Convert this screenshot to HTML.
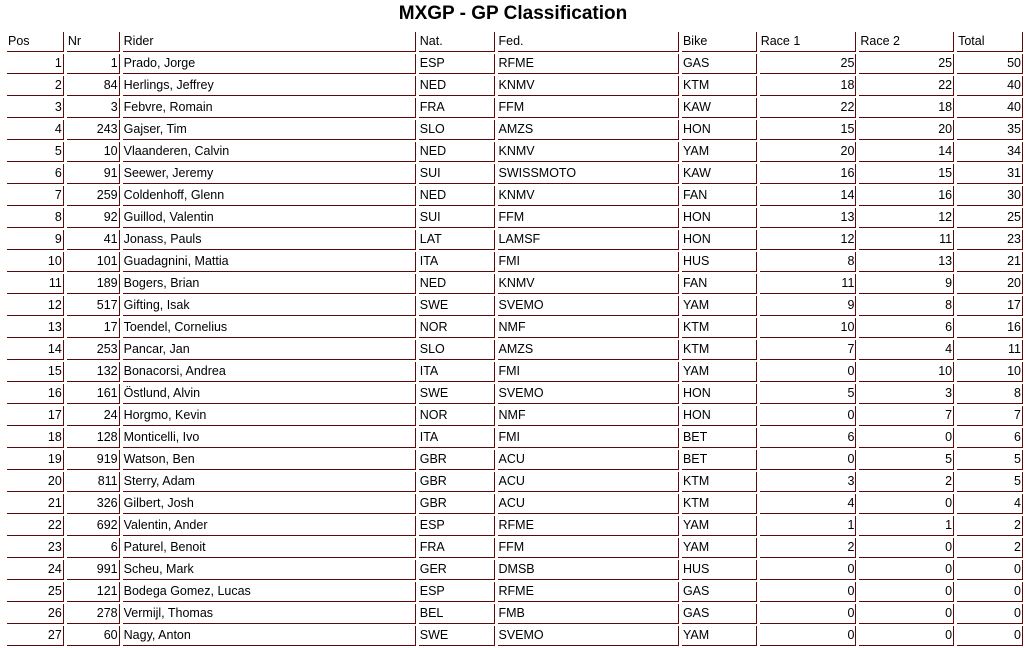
<!DOCTYPE html>
<html><head><meta charset="utf-8"><style>
body{margin:0;background:#fff;font-family:"Liberation Sans",Arial,sans-serif;width:1026px;height:648px;overflow:hidden;position:relative}
h1{position:absolute;top:3px;left:0;width:1026px;margin:0;text-align:center;font-size:19px;font-weight:bold;line-height:22px}
table{position:absolute;left:4px;top:30px;border-collapse:separate;border-spacing:3px 2px;table-layout:fixed;font-size:12.5px}
td{border-right:1px solid #5a0a0a;border-bottom:1px solid #5a0a0a;height:19px;padding:0 1px 0 1px;white-space:nowrap;overflow:hidden;line-height:19px;vertical-align:bottom}
td.r{text-align:right}
</style></head><body>
<h1>MXGP - GP Classification</h1>
<table>
<colgroup><col style="width:57px"><col style="width:53px"><col style="width:294px"><col style="width:76px"><col style="width:182px"><col style="width:75px"><col style="width:97px"><col style="width:95px"><col style="width:66px"></colgroup>
<tr class="h"><td>Pos</td><td>Nr</td><td>Rider</td><td>Nat.</td><td>Fed.</td><td>Bike</td><td>Race 1</td><td>Race 2</td><td>Total</td></tr>
<tr><td class="r">1</td><td class="r">1</td><td>Prado, Jorge</td><td>ESP</td><td>RFME</td><td>GAS</td><td class="r">25</td><td class="r">25</td><td class="r">50</td></tr>
<tr><td class="r">2</td><td class="r">84</td><td>Herlings, Jeffrey</td><td>NED</td><td>KNMV</td><td>KTM</td><td class="r">18</td><td class="r">22</td><td class="r">40</td></tr>
<tr><td class="r">3</td><td class="r">3</td><td>Febvre, Romain</td><td>FRA</td><td>FFM</td><td>KAW</td><td class="r">22</td><td class="r">18</td><td class="r">40</td></tr>
<tr><td class="r">4</td><td class="r">243</td><td>Gajser, Tim</td><td>SLO</td><td>AMZS</td><td>HON</td><td class="r">15</td><td class="r">20</td><td class="r">35</td></tr>
<tr><td class="r">5</td><td class="r">10</td><td>Vlaanderen, Calvin</td><td>NED</td><td>KNMV</td><td>YAM</td><td class="r">20</td><td class="r">14</td><td class="r">34</td></tr>
<tr><td class="r">6</td><td class="r">91</td><td>Seewer, Jeremy</td><td>SUI</td><td>SWISSMOTO</td><td>KAW</td><td class="r">16</td><td class="r">15</td><td class="r">31</td></tr>
<tr><td class="r">7</td><td class="r">259</td><td>Coldenhoff, Glenn</td><td>NED</td><td>KNMV</td><td>FAN</td><td class="r">14</td><td class="r">16</td><td class="r">30</td></tr>
<tr><td class="r">8</td><td class="r">92</td><td>Guillod, Valentin</td><td>SUI</td><td>FFM</td><td>HON</td><td class="r">13</td><td class="r">12</td><td class="r">25</td></tr>
<tr><td class="r">9</td><td class="r">41</td><td>Jonass, Pauls</td><td>LAT</td><td>LAMSF</td><td>HON</td><td class="r">12</td><td class="r">11</td><td class="r">23</td></tr>
<tr><td class="r">10</td><td class="r">101</td><td>Guadagnini, Mattia</td><td>ITA</td><td>FMI</td><td>HUS</td><td class="r">8</td><td class="r">13</td><td class="r">21</td></tr>
<tr><td class="r">11</td><td class="r">189</td><td>Bogers, Brian</td><td>NED</td><td>KNMV</td><td>FAN</td><td class="r">11</td><td class="r">9</td><td class="r">20</td></tr>
<tr><td class="r">12</td><td class="r">517</td><td>Gifting, Isak</td><td>SWE</td><td>SVEMO</td><td>YAM</td><td class="r">9</td><td class="r">8</td><td class="r">17</td></tr>
<tr><td class="r">13</td><td class="r">17</td><td>Toendel, Cornelius</td><td>NOR</td><td>NMF</td><td>KTM</td><td class="r">10</td><td class="r">6</td><td class="r">16</td></tr>
<tr><td class="r">14</td><td class="r">253</td><td>Pancar, Jan</td><td>SLO</td><td>AMZS</td><td>KTM</td><td class="r">7</td><td class="r">4</td><td class="r">11</td></tr>
<tr><td class="r">15</td><td class="r">132</td><td>Bonacorsi, Andrea</td><td>ITA</td><td>FMI</td><td>YAM</td><td class="r">0</td><td class="r">10</td><td class="r">10</td></tr>
<tr><td class="r">16</td><td class="r">161</td><td>Östlund, Alvin</td><td>SWE</td><td>SVEMO</td><td>HON</td><td class="r">5</td><td class="r">3</td><td class="r">8</td></tr>
<tr><td class="r">17</td><td class="r">24</td><td>Horgmo, Kevin</td><td>NOR</td><td>NMF</td><td>HON</td><td class="r">0</td><td class="r">7</td><td class="r">7</td></tr>
<tr><td class="r">18</td><td class="r">128</td><td>Monticelli, Ivo</td><td>ITA</td><td>FMI</td><td>BET</td><td class="r">6</td><td class="r">0</td><td class="r">6</td></tr>
<tr><td class="r">19</td><td class="r">919</td><td>Watson, Ben</td><td>GBR</td><td>ACU</td><td>BET</td><td class="r">0</td><td class="r">5</td><td class="r">5</td></tr>
<tr><td class="r">20</td><td class="r">811</td><td>Sterry, Adam</td><td>GBR</td><td>ACU</td><td>KTM</td><td class="r">3</td><td class="r">2</td><td class="r">5</td></tr>
<tr><td class="r">21</td><td class="r">326</td><td>Gilbert, Josh</td><td>GBR</td><td>ACU</td><td>KTM</td><td class="r">4</td><td class="r">0</td><td class="r">4</td></tr>
<tr><td class="r">22</td><td class="r">692</td><td>Valentin, Ander</td><td>ESP</td><td>RFME</td><td>YAM</td><td class="r">1</td><td class="r">1</td><td class="r">2</td></tr>
<tr><td class="r">23</td><td class="r">6</td><td>Paturel, Benoit</td><td>FRA</td><td>FFM</td><td>YAM</td><td class="r">2</td><td class="r">0</td><td class="r">2</td></tr>
<tr><td class="r">24</td><td class="r">991</td><td>Scheu, Mark</td><td>GER</td><td>DMSB</td><td>HUS</td><td class="r">0</td><td class="r">0</td><td class="r">0</td></tr>
<tr><td class="r">25</td><td class="r">121</td><td>Bodega Gomez, Lucas</td><td>ESP</td><td>RFME</td><td>GAS</td><td class="r">0</td><td class="r">0</td><td class="r">0</td></tr>
<tr><td class="r">26</td><td class="r">278</td><td>Vermijl, Thomas</td><td>BEL</td><td>FMB</td><td>GAS</td><td class="r">0</td><td class="r">0</td><td class="r">0</td></tr>
<tr><td class="r">27</td><td class="r">60</td><td>Nagy, Anton</td><td>SWE</td><td>SVEMO</td><td>YAM</td><td class="r">0</td><td class="r">0</td><td class="r">0</td></tr>
</table>
</body></html>
